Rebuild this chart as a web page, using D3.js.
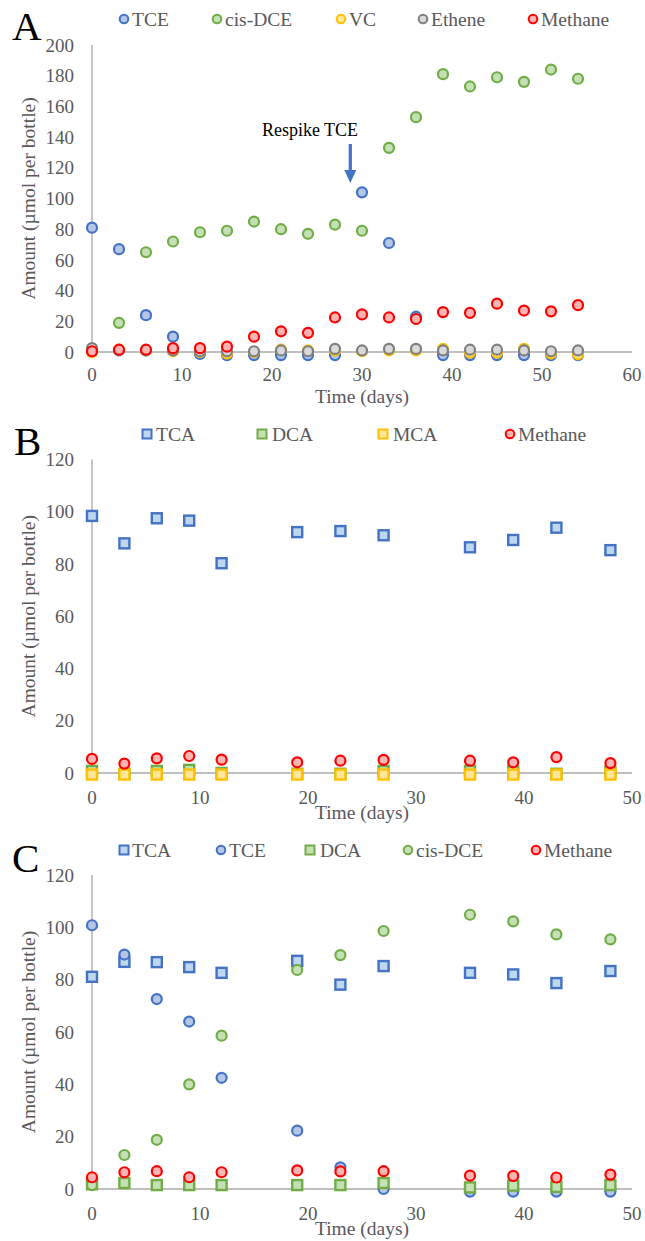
<!DOCTYPE html>
<html><head><meta charset="utf-8">
<script src="https://cdn.jsdelivr.net/npm/d3@7"></script>
<style>html,body{margin:0;padding:0;background:#fff}svg{display:block}</style>
</head><body>
<svg id="chart" width="645" height="1241"></svg>
<script>
// ---------- Panel A data ----------
const daysA = [0,3,6,9,12,15,18,21,24,27,30,33,36,39,42,45,48,51,54];
const tceA = [81,67,24,10,-1.3,-2,-2,-2,-2,-2,104,71,23,-2,-2,-2,-2,-2,-2];
const cisDceA = [0,19,65,72,78,79,85,80,77,83,79,133,153,181,173,179,176,184,178];
const vcA = [0,1.5,1,0.5,0,-1,0,1.5,1,1,0.5,1,1,2,-0.5,-0.5,2,-1,-1.5];
const etheneA = [2.5,1,1,1,0.5,0.5,0.5,1,0.5,2,1,2,2,1,1.5,1.5,1,0.5,1];
const methaneA = [0.5,1.5,1.5,2.5,2.5,3.5,10,13.5,12.5,22.5,24.5,22.5,21.5,26,25.5,31.5,27,26.5,30.5];
const yTicksA = [0,20,40,60,80,100,120,140,160,180,200];
const xTicksA = [0,10,20,30,40,50,60];

// ---------- Panel B data ----------
const daysB = [0,3,6,9,12,19,23,27,35,39,43,48];
const tcaB = [98.4,87.9,97.5,96.6,80.3,92.2,92.6,91,86.4,89.2,93.9,85.3];
const dcaB = [0.8,-0.3,0.8,1.2,0,-0.3,-0.3,0.8,0.8,0.6,-0.3,0.6];
const mcaB = [-0.6,-0.6,-0.6,-0.6,-0.6,-0.6,-0.6,-0.6,-0.6,-0.6,-0.6,-0.6];
const methaneB = [5.4,3.6,5.6,6.5,5.1,4.1,4.7,5.0,4.7,4.1,6.1,3.8];
const yTicksB = [0,20,40,60,80,100,120];
const xTicksB = [0,10,20,30,40,50];

// ---------- Panel C data ----------
const daysC = [0,3,6,9,12,19,23,27,35,39,43,48];
const tcaC = [81.1,86.8,86.7,84.8,82.6,87.2,78.1,85.2,82.6,82,78.7,83.3];
const tceC = [100.8,89.6,72.6,64,42.5,22.3,8.3,0,-1,-1,-1,-1];
const dcaC = [1.8,2.3,1.5,1.5,1.5,1.5,1.5,2.3,0.6,1.3,0.8,1.5];
const cisDceC = [1.5,13,18.8,40,58.6,83.7,89.4,98.6,104.8,102.3,97.3,95.4];
const methaneC = [4.5,6.4,6.8,4.5,6.4,7.1,6.7,6.8,5.1,5,4.4,5.5];
const yTicksC = [0,20,40,60,80,100,120];
const xTicksC = [0,10,20,30,40,50];

const yTitle = "Amount (µmol per bottle)";
const xTitle = "Time (days)";

const STY = {
  TCE:{stroke:"#4472C4", fill:"#B4C7E7"},
  cisDCE:{stroke:"#70AD47", fill:"#C5E0B4"},
  VC:{stroke:"#FFC000", fill:"#FFE699"},
  Ethene:{stroke:"#7F7F7F", fill:"#D9D9D9"},
  Methane:{stroke:"#FF0000", fill:"#FFB4B4"},
  TCA:{stroke:"#4472C4", fill:"#BDD7EE"},
  DCA:{stroke:"#70AD47", fill:"#C5E0B4"},
  MCA:{stroke:"#FFC000", fill:"#FFE699"}
};

const FONT = "'Liberation Serif','Times New Roman',serif";
const GRAY = "#595959";
const svg = d3.select("#chart");

function panel(cfg){
  const g = svg.append("g");
  const x = d3.scaleLinear().domain([0, cfg.xMax]).range([92, 632]);
  const y = d3.scaleLinear().domain([0, cfg.yMax]).range([cfg.y0, cfg.yTop]);

  g.append("line").attr("x1",x(0)).attr("x2",x(0)).attr("y1",y(cfg.yMax)).attr("y2",y(0))
    .attr("stroke","#BFBFBF").attr("stroke-width",1.8);
  g.append("line").attr("x1",x(0)).attr("x2",x(cfg.xMax)).attr("y1",y(0)).attr("y2",y(0))
    .attr("stroke","#BFBFBF").attr("stroke-width",1.8);

  g.selectAll(".yt").data(cfg.yTicks).enter().append("text")
    .attr("x",74).attr("y",d=>y(d)).attr("dy","0.35em").attr("text-anchor","end")
    .attr("font-family",FONT).attr("font-size",19).attr("fill",GRAY).text(d=>d);
  g.selectAll(".xt").data(cfg.xTicks).enter().append("text")
    .attr("x",d=>x(d)).attr("y",y(0)+cfg.xTickOff).attr("text-anchor","middle")
    .attr("font-family",FONT).attr("font-size",19).attr("fill",GRAY).text(d=>d);

  g.append("text").attr("transform",`translate(35,${(y(0)+y(cfg.yMax))/2}) rotate(-90)`)
    .attr("text-anchor","middle").attr("font-family",FONT).attr("font-size",19.5)
    .attr("fill",GRAY).text(yTitle);
  g.append("text").attr("x",(x(0)+x(cfg.xMax))/2).attr("y",y(0)+cfg.xTitleOff).attr("text-anchor","middle")
    .attr("font-family",FONT).attr("font-size",19.5).attr("fill",GRAY).text(xTitle);

  g.append("text").attr("x",cfg.letterX).attr("y",cfg.letterY).attr("font-family",FONT)
    .attr("font-size",41).attr("fill","#000").text(cfg.letter);

  cfg.series.forEach(s=>{
    const st = STY[s.key];
    const pts = cfg.days.map((d,i)=>({d, v:s.values[i]}));
    if(s.shape==="circle"){
      g.append("g").selectAll("circle").data(pts).enter().append("circle")
        .attr("cx",p=>x(p.d)).attr("cy",p=>y(p.v)).attr("r",5)
        .attr("fill",st.fill).attr("stroke",st.stroke).attr("stroke-width",2.2);
    } else {
      g.append("g").selectAll("rect").data(pts).enter().append("rect")
        .attr("x",p=>x(p.d)-5).attr("y",p=>y(p.v)-5).attr("width",10).attr("height",10)
        .attr("fill",st.fill).attr("stroke",st.stroke).attr("stroke-width",2.4);
    }
  });

  cfg.legend.forEach(l=>{
    const st = STY[l.key];
    if(l.shape==="circle"){
      g.append("circle").attr("cx",l.mx).attr("cy",cfg.legY).attr("r",4.3)
        .attr("fill",st.fill).attr("stroke",st.stroke).attr("stroke-width",2);
    } else {
      g.append("rect").attr("x",l.mx-4.5).attr("y",cfg.legY-4.5).attr("width",9).attr("height",9)
        .attr("fill",st.fill).attr("stroke",st.stroke).attr("stroke-width",2);
    }
    g.append("text").attr("x",l.tx).attr("y",cfg.legY).attr("dy","0.35em")
      .attr("font-family",FONT).attr("font-size",19.5).attr("fill",GRAY).text(l.label);
  });
  return {g,x,y};
}

// Panel A
const A = panel({
  letter:"A", letterX:12, letterY:40, xMax:60, yMax:200, y0:352, yTop:45, xTickOff:29, xTitleOff:51,
  yTicks:yTicksA, xTicks:xTicksA, days:daysA, legY:19,
  series:[
    {key:"TCE", shape:"circle", values:tceA},
    {key:"cisDCE", shape:"circle", values:cisDceA},
    {key:"VC", shape:"circle", values:vcA},
    {key:"Ethene", shape:"circle", values:etheneA},
    {key:"Methane", shape:"circle", values:methaneA}
  ],
  legend:[
    {key:"TCE", shape:"circle", mx:124, tx:132, label:"TCE"},
    {key:"cisDCE", shape:"circle", mx:217, tx:225, label:"cis-DCE"},
    {key:"VC", shape:"circle", mx:341, tx:349, label:"VC"},
    {key:"Ethene", shape:"circle", mx:423, tx:431, label:"Ethene"},
    {key:"Methane", shape:"circle", mx:533, tx:541, label:"Methane"}
  ]
});
A.g.append("text").attr("x",310).attr("y",136).attr("text-anchor","middle")
  .attr("font-family",FONT).attr("font-size",18).attr("fill","#000").text("Respike TCE");
const ax = A.x(28.7);
A.g.append("line").attr("x1",ax).attr("x2",ax).attr("y1",144).attr("y2",172)
  .attr("stroke","#4472C4").attr("stroke-width",3.2);
A.g.append("path").attr("d",`M${ax-6},170 L${ax+6},170 L${ax},183 Z`).attr("fill","#4472C4");

// Panel B
panel({
  letter:"B", letterX:14, letterY:455, xMax:50, yMax:120, y0:773, yTop:459.5, xTickOff:31, xTitleOff:46,
  yTicks:yTicksB, xTicks:xTicksB, days:daysB, legY:434,
  series:[
    {key:"TCA", shape:"square", values:tcaB},
    {key:"DCA", shape:"square", values:dcaB},
    {key:"MCA", shape:"square", values:mcaB},
    {key:"Methane", shape:"circle", values:methaneB}
  ],
  legend:[
    {key:"TCA", shape:"square", mx:147, tx:156, label:"TCA"},
    {key:"DCA", shape:"square", mx:262, tx:272, label:"DCA"},
    {key:"MCA", shape:"square", mx:383, tx:393, label:"MCA"},
    {key:"Methane", shape:"circle", mx:510, tx:518, label:"Methane"}
  ]
});

// Panel C
panel({
  letter:"C", letterX:12, letterY:872, xMax:50, yMax:120, y0:1189, yTop:875, xTickOff:31, xTitleOff:46,
  yTicks:yTicksC, xTicks:xTicksC, days:daysC, legY:850,
  series:[
    {key:"TCA", shape:"square", values:tcaC},
    {key:"TCE", shape:"circle", values:tceC},
    {key:"DCA", shape:"square", values:dcaC},
    {key:"cisDCE", shape:"circle", values:cisDceC},
    {key:"Methane", shape:"circle", values:methaneC}
  ],
  legend:[
    {key:"TCA", shape:"square", mx:124, tx:132, label:"TCA"},
    {key:"TCE", shape:"circle", mx:221, tx:229, label:"TCE"},
    {key:"DCA", shape:"square", mx:310, tx:320, label:"DCA"},
    {key:"cisDCE", shape:"circle", mx:408, tx:416, label:"cis-DCE"},
    {key:"Methane", shape:"circle", mx:536, tx:544, label:"Methane"}
  ]
});
</script>
</body></html>
